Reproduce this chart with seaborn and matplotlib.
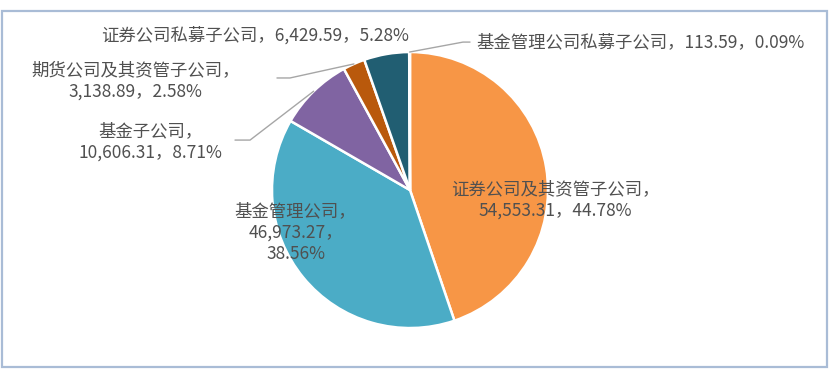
import numpy as np
import seaborn as sns
import matplotlib.pyplot as plt
from matplotlib.patches import Rectangle

# data (clockwise from 12 o'clock)
names = ["证券公司及其资管子公司", "基金管理公司", "基金子公司",
         "期货公司及其资管子公司", "证券公司私募子公司", "基金管理公司私募子公司"]
values = [54553.31, 46973.27, 10606.31, 3138.89, 6429.59, 113.59]
shares = ["44.78%", "38.56%", "8.71%", "2.58%", "5.28%", "0.09%"]

colors = ["#F79646", "#4BACC6", "#8064A2", "#B9590C", "#215E72", "#5F497A"]


def make_label(i, layout):
    v = f"{values[i]:,.2f}"
    if layout == 1:
        return f"{names[i]}，{v}，{shares[i]}"
    if layout == 3:
        return f"{names[i]}，\n{v}，\n{shares[i]}"
    return f"{names[i]}，\n{v}，{shares[i]}"


def draw_pie(ax):
    wedges, _ = ax.pie(values, colors=colors, startangle=90, counterclock=False,
                       radius=1, center=(0, 0),
                       wedgeprops=dict(edgecolor="white", linewidth=1.8))
    return wedges


if __name__ == "__main__":
    sns.set_theme(style="white")
    plt.rcParams['font.family'] = ['Noto Sans CJK SC', 'DejaVu Sans']

    fig = plt.figure(figsize=(8.32, 3.70), dpi=100)
    ax = fig.add_axes([0, 0, 1, 1])
    wedges = draw_pie(ax)
    ax.set_xlim(-2.971, 3.058)
    ax.set_ylim(-1.304, 1.377)
    ax.set_aspect("auto")
    ax.axis("off")

    txt = dict(color="#505050", fontsize=12.5, ha="center", va="center",
               linespacing=1.25)
    # label positions (pie radius = 1)
    label_pos = [(1.05, -0.07, 2), (-0.83, -0.31, 3), (-1.88, 0.35, 2),
                 (-1.99, 0.79, 2), (-1.12, 1.12, 1), (1.667, 1.07, 1)]
    for i, (x, y, lay) in enumerate(label_pos):
        ax.text(x, y, make_label(i, lay), **txt)

    # leader lines: wedge index -> elbow, end
    leaders = {2: [(-1.159, 0.362), (-1.268, 0.362)],
               3: [(-0.870, 0.812), (-0.964, 0.812)],
               5: [(0.384, 1.072), (0.435, 1.072)]}
    for i, pts in leaders.items():
        w = wedges[i]
        a = np.deg2rad((w.theta1 + w.theta2) / 2)
        xs = [np.cos(a)] + [p[0] for p in pts]
        ys = [np.sin(a)] + [p[1] for p in pts]
        ax.plot(xs, ys, color="#A6A6A6", lw=1.0)

    fig.add_artist(Rectangle((0.002, 0.008), 0.992, 0.962, transform=fig.transFigure,
                             fill=False, edgecolor="#A9BCD6", lw=1.6))

    plt.savefig("out.png", dpi=100)
